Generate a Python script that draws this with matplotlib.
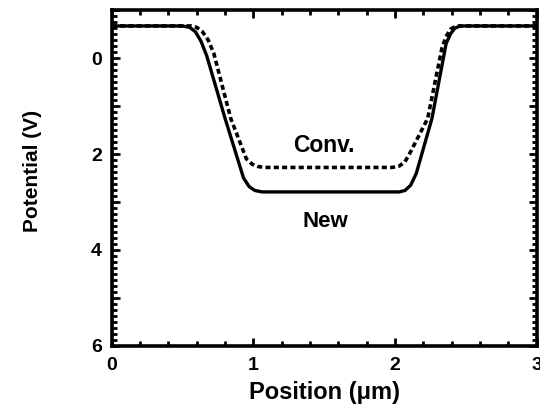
import matplotlib
matplotlib.use('Agg')

import matplotlib.pyplot as plt
from matplotlib.ticker import MultipleLocator, FuncFormatter

plt.rcParams['font.family'] = ['Liberation Sans', 'DejaVu Sans']
plt.rcParams['font.weight'] = 'bold'

# -------------------
# Data
# -------------------
new_x = [0.0, 0.50, 0.55, 0.59, 0.63, 0.67, 0.80, 0.93, 0.97, 1.01, 1.06,
         2.03, 2.07, 2.11, 2.15, 2.26, 2.36, 2.39, 2.42, 2.46, 3.0]
new_y = [-0.67, -0.67, -0.64, -0.55, -0.35, -0.05, 1.26, 2.50, 2.68, 2.76, 2.79,
         2.79, 2.76, 2.65, 2.40, 1.26, -0.30, -0.50, -0.62, -0.67, -0.67]

conv_x = [0.0, 0.56, 0.60, 0.64, 0.68, 0.72, 0.84, 0.95, 0.99, 1.03, 1.08,
          1.98, 2.03, 2.07, 2.11, 2.23, 2.33, 2.36, 2.39, 2.43, 3.0]
conv_y = [-0.67, -0.67, -0.64, -0.55, -0.38, -0.10, 1.26, 2.10, 2.21, 2.26, 2.28,
          2.28, 2.25, 2.16, 1.95, 1.26, -0.20, -0.45, -0.60, -0.67, -0.67]

# -------------------
# Plot
# -------------------
fig = plt.figure(figsize=(5.4, 4.05), dpi=100)
ax = fig.add_axes([0.207, 0.146, 0.787, 0.829])

ax.plot(new_x, new_y, color='black', linewidth=2.4, solid_joinstyle='round')
ax.plot(conv_x, conv_y, color='black', linewidth=2.6, linestyle=(0, (1.4, 0.9)))

ax.text(1.5, 1.83, 'Conv.', fontsize=16.5, fontweight='bold', ha='center', va='center')
ax.text(1.51, 3.4, 'New', fontsize=16, fontweight='bold', ha='center', va='center')

ax.set_xlim(0, 3)
ax.set_ylim(6, -1)

ax.xaxis.set_major_locator(MultipleLocator(1))
ax.xaxis.set_minor_locator(MultipleLocator(0.2))
ax.yaxis.set_major_locator(MultipleLocator(1))
ax.yaxis.set_minor_locator(MultipleLocator(0.125))
ax.yaxis.set_major_formatter(FuncFormatter(lambda v, p: '%d' % v if v >= 0 and int(round(v)) % 2 == 0 else ''))

ax.tick_params(which='both', direction='in', top=True, right=True, width=2, labelsize=14)
ax.tick_params(which='major', length=6)
ax.tick_params(which='minor', length=3.5)
ax.tick_params(axis='y', pad=7)
ax.tick_params(axis='x', pad=8)

for s in ax.spines.values():
    s.set_linewidth(2.6)

ax.set_xlabel('Position (\u03bcm)', fontsize=17, fontweight='bold', labelpad=5)
ax.set_ylabel('Potential (V)', fontsize=15, fontweight='bold')
ax.yaxis.set_label_coords(-0.165, 0.52)

fig.savefig('out.png', dpi=100)
